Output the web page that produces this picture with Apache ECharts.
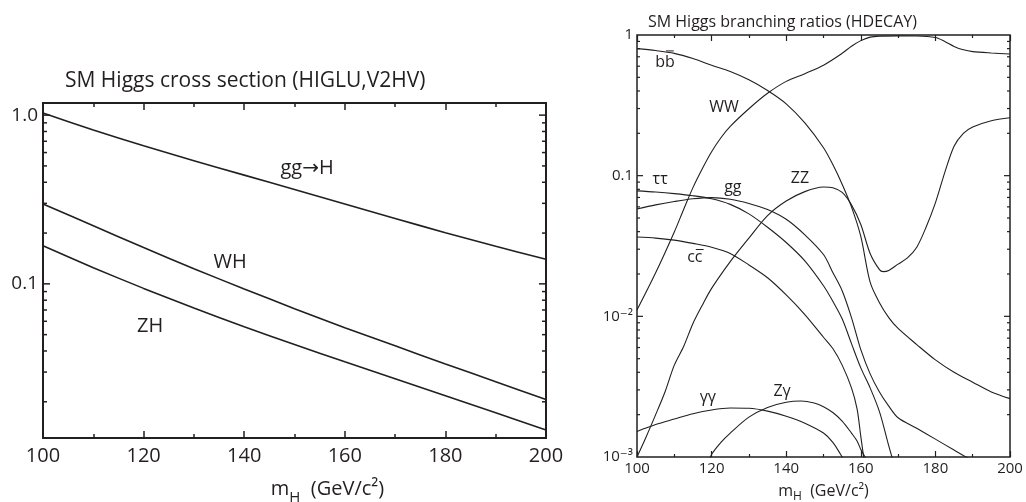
<!DOCTYPE html>
<html>
<head>
<meta charset="utf-8">
<script src="https://cdn.jsdelivr.net/npm/echarts@6/dist/echarts.min.js"></script>
<style>
html, body { margin: 0; padding: 0; background: #fff; }
#chart { width: 1026px; height: 502px; }
</style>
</head>
<body>
<div id="chart"></div>
<script>
// left panel: cross sections (pb) vs Higgs mass
var massL = [100, 110, 120, 130, 140, 150, 160, 170, 180, 190, 200];
var sigGG = [1.028, 0.817, 0.658, 0.537, 0.441, 0.362, 0.297, 0.244, 0.201, 0.167, 0.140];
var sigWH = [0.297, 0.221, 0.164, 0.123, 0.0933, 0.0713, 0.055, 0.0429, 0.0335, 0.0263, 0.0206];
var sigZH = [0.168, 0.1247, 0.094, 0.0719, 0.0557, 0.0437, 0.0345, 0.0274, 0.0217, 0.0172, 0.0136];

// right panel: branching ratios, [mass, BR]
var brBB = [[100, 0.80], [105, 0.775], [110, 0.74], [115, 0.68], [120, 0.61], [125, 0.55], [130, 0.48], [135, 0.403], [140, 0.324], [145, 0.237], [150, 0.158], [152.5, 0.12], [155, 0.087], [157.5, 0.060], [160, 0.037], [162.5, 0.0175], [165, 0.0125], [167.5, 0.0098], [170, 0.0082], [175, 0.0063], [180, 0.0049], [185, 0.0040], [190, 0.0034], [195, 0.0029], [200, 0.0026]];
var brWW = [[100, 0.0111], [105, 0.0204], [110, 0.0398], [112.5, 0.0575], [115, 0.0822], [117.5, 0.112], [120, 0.148], [122.5, 0.186], [125, 0.224], [130, 0.299], [135, 0.385], [140, 0.468], [145, 0.531], [150, 0.61], [155, 0.741], [157.5, 0.832], [160, 0.912], [162.5, 0.966], [165, 0.982], [170, 0.986], [175, 0.984], [180, 0.959], [182.5, 0.90], [185, 0.83], [187.5, 0.785], [190, 0.762], [195, 0.745], [200, 0.733]];
var brZZ = [[100, 0.001], [102.5, 0.0014], [105, 0.002], [107.5, 0.0029], [110, 0.0045], [112.5, 0.0061], [115, 0.0089], [117.5, 0.0120], [120, 0.0158], [125, 0.0245], [130, 0.036], [135, 0.052], [140, 0.066], [145, 0.077], [150, 0.083], [152.5, 0.082], [155, 0.076], [157.5, 0.062], [160, 0.045], [162.5, 0.028], [165, 0.0215], [166, 0.0208], [167.5, 0.0212], [170, 0.0235], [172.5, 0.026], [175, 0.031], [177.5, 0.043], [180, 0.064], [182.5, 0.105], [185, 0.162], [187.5, 0.2], [190, 0.222], [195, 0.246], [200, 0.258]];
var brTT = [[100, 0.078], [105, 0.0765], [110, 0.0745], [115, 0.072], [120, 0.0685], [125, 0.0625], [130, 0.0535], [135, 0.043], [140, 0.0335], [145, 0.0248], [150, 0.0165], [152.5, 0.0128], [155, 0.0096], [157.5, 0.0064], [160, 0.0043], [162.5, 0.0031], [165, 0.0021], [167.5, 0.0012], [170, 0.0007]];
var brGG = [[100, 0.058], [105, 0.062], [110, 0.0655], [115, 0.0685], [120, 0.0698], [125, 0.068], [130, 0.0635], [135, 0.0575], [140, 0.049], [145, 0.038], [150, 0.0275], [152.5, 0.0205], [155, 0.0152], [157.5, 0.0098], [160, 0.0058], [162.5, 0.0039], [165, 0.0029], [167.5, 0.0023], [170, 0.0019], [175, 0.0016], [180, 0.00134], [185, 0.00112], [190, 0.00094], [195, 0.0008]];
var brCC = [[100, 0.0366], [105, 0.036], [110, 0.0348], [115, 0.033], [120, 0.031], [125, 0.028], [130, 0.0232], [135, 0.0188], [140, 0.0142], [145, 0.0103], [150, 0.0071], [152.5, 0.0059], [155, 0.0045], [157.5, 0.0031], [159, 0.0022], [160, 0.0014], [161, 0.0009]];
var brYY = [[100, 0.00152], [105, 0.0017], [110, 0.00186], [115, 0.00203], [120, 0.00216], [125, 0.00223], [130, 0.00222], [135, 0.00212], [140, 0.00195], [145, 0.00174], [150, 0.00148], [152.5, 0.00127], [155, 0.00100], [157, 0.0008]];
var brZY = [[118, 0.00075], [120, 0.00104], [122.5, 0.00127], [125, 0.00148], [130, 0.00192], [135, 0.00225], [140, 0.00245], [144, 0.0025], [147.5, 0.00242], [150, 0.00228], [152.5, 0.00207], [155, 0.0018], [157.5, 0.00148], [159, 0.0013], [160, 0.00113], [161.5, 0.00095], [162, 0.0008]];

// curve labels: text, mass, value, bar over last letter
var labelsL = [['gg→H', 152.5, 0.485, 0], ['WH', 137.2, 0.134, 0], ['ZH', 121.3, 0.0561, 0]];
var labelsR = [['bb', 107.5, 0.633, 1], ['WW', 123.3, 0.308, 0], ['ττ', 106.2, 0.0933, 0], ['gg', 125.7, 0.0819, 0], ['ZZ', 143.7, 0.0949, 0], ['cc', 115.5, 0.0262, 1], ['γγ', 119, 0.00264, 0], ['Zγ', 138.9, 0.00291, 0]];

// log tick positions
var minorL = [0.02, 0.03, 0.04, 0.05, 0.06, 0.07, 0.08, 0.09, 0.2, 0.3, 0.4, 0.5, 0.6, 0.7, 0.8, 0.9];
var majorL = [0.1, 1];
var minorR = [0.002, 0.003, 0.004, 0.005, 0.006, 0.007, 0.008, 0.009, 0.02, 0.03, 0.04, 0.05, 0.06, 0.07, 0.08, 0.09, 0.2, 0.3, 0.4, 0.5, 0.6, 0.7, 0.8, 0.9];
var majorR = [0.01, 0.1];
var yTextL = { '0': '1.0', '-1': '0.1' };
var yTextR = { '0': '1', '-1': '0.1', '-2': '10⁻²', '-3': '10⁻³' };

var INK = '#231f20';
var FONT = '"Open Sans", "DejaVu Sans", sans-serif';

var chart = echarts.init(document.getElementById('chart'));

function pairs(xs, ys) {
	return xs.map(function (x, i) { return [x, ys[i]]; });
}

function logLabel(map) {
	return function (v) {
		var l = Math.log10(v);
		var k = Math.round(l);
		if (Math.abs(l - k) > 1e-6) return '';
		return map[String(k)] || '';
	};
}

//ticks on both vertical edges of a log axis
function yTicks(xIdx, yIdx, xMin, xMax, values, len, width) {
	return {
		type: 'custom', xAxisIndex: xIdx, yAxisIndex: yIdx, silent: true, z: 5,
		data: values.map(function (v) { return [xMin, v]; }),
		renderItem: function (params, api) {
			var a = api.coord([xMin, api.value(1)]);
			var b = api.coord([xMax, api.value(1)]);
			var st = { stroke: INK, lineWidth: width };
			return {
				type: 'group', children: [
					{ type: 'line', shape: { x1: a[0], y1: a[1], x2: a[0] + len, y2: a[1] }, style: st },
					{ type: 'line', shape: { x1: b[0] - len, y1: b[1], x2: b[0], y2: b[1] }, style: st }
				]
			};
		}
	};
}

function curve(xIdx, yIdx, data, width) {
	return {
		type: 'line', xAxisIndex: xIdx, yAxisIndex: yIdx, data: data,
		showSymbol: false, smooth: 0.3, clip: true, silent: true,
		lineStyle: { color: INK, width: width }
	};
}

//curve names, with an optional bar over the last letter (b-bar, c-bar)
function texts(xIdx, yIdx, list, size) {
	return {
		type: 'custom', xAxisIndex: xIdx, yAxisIndex: yIdx, silent: true, z: 6,
		data: list.map(function (l) { return [l[1], l[2]]; }),
		renderItem: function (params, api) {
			var l = list[params.dataIndex];
			var p = api.coord([api.value(0), api.value(1)]);
			var kids = [{
				type: 'text', z2: 10,
				style: { text: l[0], x: p[0], y: p[1], fill: INK, fontSize: size, fontFamily: FONT, align: 'center', verticalAlign: 'middle' }
			}];
			if (l[3]) {
				// tall letter (b) gets the bar higher than a short one (c)
				var up = l[0].slice(-1) === 'b' ? 0.75 : 0.5;
				kids.push({
					type: 'line', z2: 10,
					shape: { x1: p[0] + 1, y1: p[1] - size * up, x2: p[0] + size * 0.55, y2: p[1] - size * up },
					style: { stroke: INK, lineWidth: 1 }
				});
			}
			return { type: 'group', children: kids };
		}
	};
}

function xAxis(gi, pos, opt) {
	return {
		gridIndex: gi, type: 'value', position: pos, min: 100, max: 200, interval: 20,
		axisLine: { show: false },
		axisTick: { show: true, inside: true, length: opt.tick, lineStyle: { color: INK, width: opt.w } },
		minorTick: { show: true, splitNumber: 2, length: opt.minor, lineStyle: { color: INK, width: opt.w } },
		splitLine: { show: false },
		axisLabel: {
			show: pos === 'bottom', fontSize: opt.font, color: INK, fontFamily: FONT, margin: opt.margin
		},
		name: pos === 'bottom' ? 'm{sub|H}  (GeV/c²)' : '',
		nameLocation: 'middle',
		nameGap: opt.gap,
		nameTextStyle: {
			fontSize: opt.nameFont, color: INK, fontFamily: FONT, padding: opt.namePad,
			rich: { sub: { fontSize: opt.subFont, color: INK, fontFamily: FONT, padding: [opt.subDrop, 0, 0, 0] } }
		}
	};
}

function yAxis(gi, min, max, map, font, margin) {
	return {
		gridIndex: gi, type: 'log', logBase: 10, min: min, max: max,
		axisLine: { show: false },
		axisTick: { show: false },
		splitLine: { show: false },
		axisLabel: { formatter: logLabel(map), fontSize: font, color: INK, fontFamily: FONT, margin: margin }
	};
}

var optL = { tick: 7, minor: 4, w: 1.5, font: 20, margin: 8, gap: 36, nameFont: 20, subFont: 15, subDrop: 16, namePad: [0, 0, 0, 66] };
var optR = { tick: 6, minor: 3, w: 1.2, font: 15, margin: 4, gap: 22, nameFont: 16, subFont: 12, subDrop: 12, namePad: [0, 0, 0, 0] };

var option = {
	animation: false,
	backgroundColor: '#fff',
	title: [
		{ text: 'SM Higgs cross section (HIGLU,V2HV)', left: 65, top: 71, padding: 0,
			textStyle: { fontSize: 21, fontWeight: 'normal', color: INK, fontFamily: FONT } },
		{ text: 'SM Higgs branching ratios (HDECAY)', left: 648, top: 14, padding: 0,
			textStyle: { fontSize: 16, fontWeight: 'normal', color: INK, fontFamily: FONT } }
	],
	grid: [
		{ left: 43, top: 103, width: 503, height: 335, outerBoundsMode: 'none', containLabel: false,
			show: true, borderColor: INK, borderWidth: 2 },
		{ left: 637, top: 35, width: 373, height: 422, outerBoundsMode: 'none', containLabel: false,
			show: true, borderColor: INK, borderWidth: 1.5 }
	],
	xAxis: [
		xAxis(0, 'bottom', optL), xAxis(0, 'top', optL),
		xAxis(1, 'bottom', optR), xAxis(1, 'top', optR)
	],
	yAxis: [
		yAxis(0, 0.0122, 1.18, yTextL, 19, 5),
		yAxis(1, 0.001, 1, yTextR, 15, 4)
	],
	series: [
		curve(0, 0, pairs(massL, sigGG), 1.6),
		curve(0, 0, pairs(massL, sigWH), 1.6),
		curve(0, 0, pairs(massL, sigZH), 1.6),
		yTicks(0, 0, 100, 200, minorL, 4, 1.5),
		yTicks(0, 0, 100, 200, majorL, 7, 1.5),
		texts(0, 0, labelsL, 20),

		curve(2, 1, brBB, 1.1),
		curve(2, 1, brWW, 1.1),
		curve(2, 1, brZZ, 1.1),
		curve(2, 1, brTT, 1.1),
		curve(2, 1, brGG, 1.1),
		curve(2, 1, brCC, 1.1),
		curve(2, 1, brYY, 1.1),
		curve(2, 1, brZY, 1.1),
		yTicks(2, 1, 100, 200, minorR, 3, 1.2),
		yTicks(2, 1, 100, 200, majorR, 6, 1.2),
		texts(2, 1, labelsR, 16)
	]
};

chart.setOption(option);
</script>
</body>
</html>
